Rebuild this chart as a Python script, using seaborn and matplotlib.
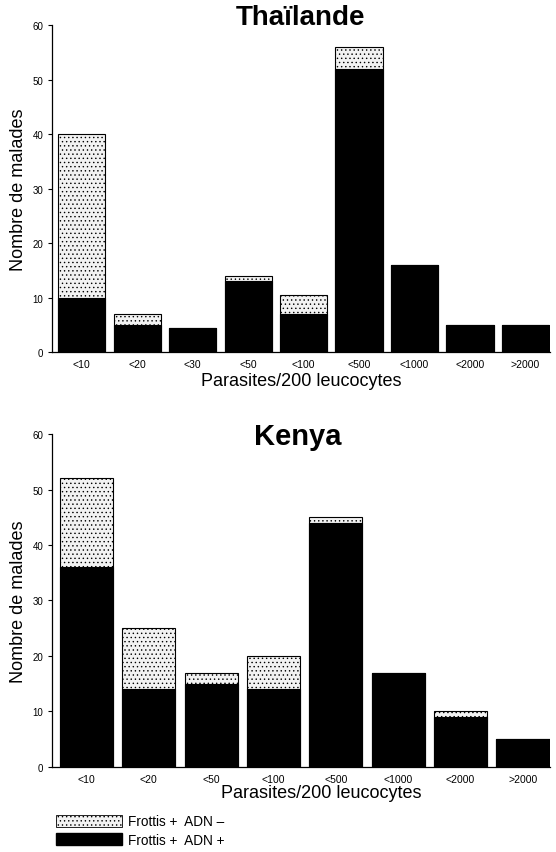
import matplotlib
matplotlib.use("Agg")
import matplotlib.pyplot as plt
from matplotlib.patches import Patch
import seaborn as sns
import pandas as pd

# ---- data ----
thai_cats = ["<10", "<20", "<30", "<50", "<100", "<500", "<1000", "<2000", ">2000"]
thai_total = [40, 7, 4.5, 14, 10.5, 56, 16, 5, 5]      # Frottis + (total)
thai_adn_pos = [10, 5, 4.5, 13, 7, 52, 16, 5, 5]      # Frottis + ADN +

kenya_cats = ["<10", "<20", "<50", "<100", "<500", "<1000", "<2000", ">2000"]
kenya_total = [52, 25, 17, 20, 45, 17, 10, 5]
kenya_adn_pos = [36, 14, 15, 14, 44, 17, 9, 5]

titles = ["Thaïlande", "Kenya"]
ylabel = "Nombre de malades"
xlabel = "Parasites/200 leucocytes"
legend_labels = ["Frottis +  ADN \u2013", "Frottis +  ADN +"]
yticks = [0, 10, 20, 30, 40, 50, 60]

sns.set_style("ticks")
plt.rcParams["font.family"] = ["Liberation Sans", "DejaVu Sans"]
plt.rcParams["hatch.linewidth"] = 0.5
for k in ["text.color", "axes.labelcolor", "xtick.color", "ytick.color",
          "axes.edgecolor"]:
    plt.rcParams[k] = "black"

fig = plt.figure(figsize=(5.56, 8.53), dpi=100)
ax1 = fig.add_axes([0.094, 0.586, 0.896, 0.383])
ax2 = fig.add_axes([0.094, 0.0997, 0.896, 0.3903])


def draw(ax, cats, total, pos, xlim, xlab_x, xlab_pad):
    df = pd.DataFrame({"cat": cats, "total": total, "pos": pos})
    sns.barplot(data=df, x="cat", y="total", order=cats, color="white",
                width=0.85, edgecolor="black", linewidth=0.8, ax=ax,
                saturation=1)
    n = len(ax.patches)
    for p in ax.patches[:n]:
        p.set_hatch("....")
        p.set_facecolor("#f2f2f2")
    sns.barplot(data=df, x="cat", y="pos", order=cats, color="black",
                width=0.85, edgecolor="black", linewidth=0.8, ax=ax,
                saturation=1)
    ax.set_ylim(0, 60)
    ax.set_xlim(*xlim)
    ax.set_yticks(yticks)
    ax.tick_params(axis="y", labelsize=7, length=3, width=0.8)
    ax.tick_params(axis="x", labelsize=7.5, length=0, pad=5)
    ax.set_ylabel(ylabel, fontsize=13, labelpad=4)
    ax.set_xlabel(xlabel, fontsize=13, labelpad=xlab_pad)
    ax.xaxis.label.set_x(xlab_x)
    sns.despine(ax=ax)
    for s in ["left", "bottom"]:
        ax.spines[s].set_linewidth(0.9)


draw(ax1, thai_cats, thai_total, thai_adn_pos, (-0.53, 8.45), 0.5, 2)
draw(ax2, kenya_cats, kenya_total, kenya_adn_pos, (-0.545, 7.44), 0.54, 0)

fig.text(0.54, 0.979, titles[0], ha="center", va="center",
         fontsize=20, fontweight="bold")
fig.text(0.535, 0.488, titles[1], ha="center", va="center",
         fontsize=21, fontweight="bold")

handles = [
    Patch(facecolor="#f2f2f2", edgecolor="black", hatch="....", linewidth=0.6),
    Patch(facecolor="black", edgecolor="black"),
]
fig.legend(handles, legend_labels, loc="upper left",
           bbox_to_anchor=(0.1, 0.044), frameon=False, fontsize=9.8,
           handlelength=4.9, handleheight=1.0, labelspacing=0.3,
           handletextpad=0.45, borderaxespad=0, borderpad=0)

fig.savefig("out.png", dpi=100)
